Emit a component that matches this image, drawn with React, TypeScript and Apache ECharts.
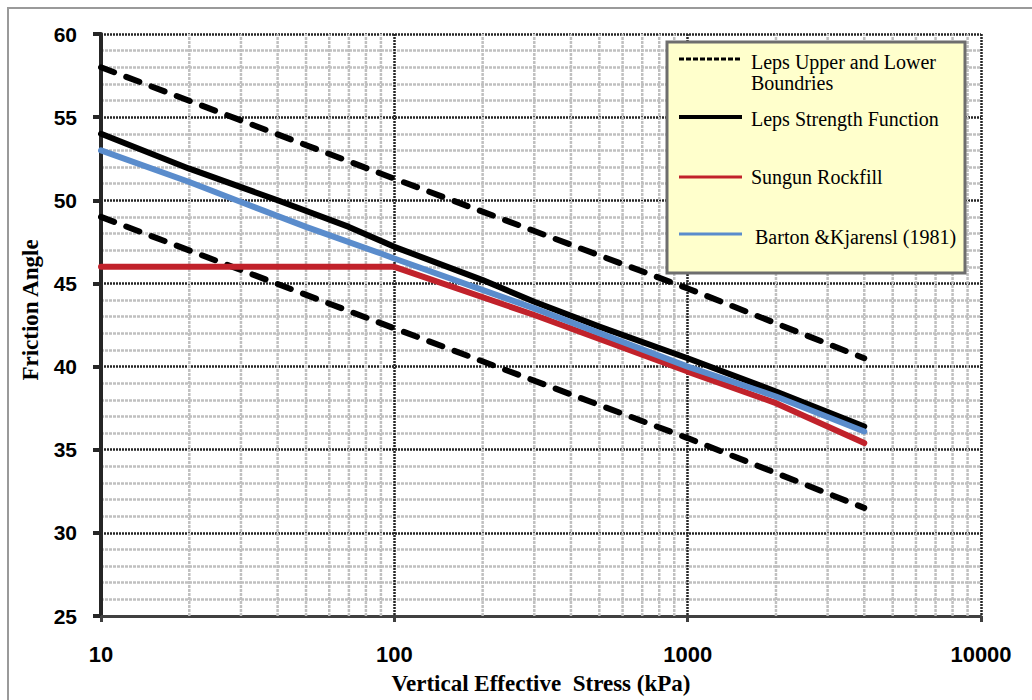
import React, { useEffect, useRef } from "react";
import * as echarts from "echarts";

const upperX = [10, 100, 1000, 4000];
const upperY = [58, 51.3, 44.7, 40.5];
const lowerX = [10, 100, 1000, 4000];
const lowerY = [49, 42.3, 35.7, 31.5];
const lepsX = [10, 20, 40, 70, 100, 200, 300, 500, 1000, 2000, 4000];
const lepsY = [54, 51.9, 50, 48.4, 47.2, 45.2, 43.9, 42.4, 40.5, 38.5, 36.4];
const sungunX = [10, 100, 300, 1000, 2000, 4000];
const sungunY = [46, 46, 43.1, 39.7, 37.8, 35.4];
const bartonX = [10, 20, 30, 50, 90, 100, 300, 1000, 2000, 4000];
const bartonY = [53, 51.1, 49.9, 48.4, 46.8, 46.5, 43.5, 40.0, 38.2, 36.1];
const minorXGrid = [20, 30, 40, 50, 60, 70, 80, 90, 200, 300, 400, 500, 600, 700, 800, 900, 2000, 3000, 4000, 5000, 6000, 7000, 8000, 9000];
const yMin = 25;
const yMax = 60;
const yStep = 5;

const legendNames = [
  "Leps Upper and Lower\nBoundries",
  "Leps Strength Function",
  "Sungun Rockfill",
  "Barton &Kjarensl (1981)",
];

const pairs = (xs: number[], ys: number[]) => xs.map((x, i) => [x, ys[i]]);

export default function App() {
  const ref = useRef<HTMLDivElement>(null);
  useEffect(() => {
    document.body.style.margin = "0";
    const chart = echarts.init(ref.current!, null, { renderer: "svg" });
    const serif = "'Liberation Serif', 'Times New Roman', serif";
    const sans = "'Liberation Sans', Arial, sans-serif";
    const lx1 = 679, lx2 = 742, tx = 751;
    const Z = 100;
    const legendFont = `20px ${serif}`;
    const minorGrid = { color: "#c0c0c0", width: 2.5, type: [3, 1] as number[] };
    const majorGrid = { color: "#262626", width: 2.5, type: [2, 1] as number[] };
    const vGridData: any[] = [];
    minorXGrid.forEach((v) => {
      vGridData.push([v, yMin], [v, yMax], [v, "-"]);
    });
    chart.setOption({
      animation: false,
      backgroundColor: "#ffffff",
      grid: { left: 101, top: 34, width: 880, height: 585, containLabel: false },
      xAxis: {
        type: "log",
        logBase: 10,
        min: 10,
        max: 10000,
        name: "Vertical Effective  Stress (kPa)",
        nameLocation: "middle",
        nameGap: 56,
        nameTextStyle: { fontFamily: serif, fontWeight: "bold", fontSize: 23, color: "#000" },
        axisLine: { show: true, lineStyle: { color: "#404040", width: 3 } },
        axisTick: { show: true, length: 6, lineStyle: { color: "#404040", width: 3 } },
        axisLabel: {
          margin: 27,
          fontFamily: sans,
          fontWeight: "bold",
          fontSize: 22,
          color: "#000",
          formatter: (v: number) => String(Math.round(v)),
        },
        splitLine: { show: true, lineStyle: majorGrid },
        minorTick: { show: false },
      },
      yAxis: {
        type: "value",
        min: yMin,
        max: yMax,
        interval: yStep,
        name: "Friction Angle",
        nameLocation: "middle",
        nameGap: 59,
        nameRotate: 90,
        nameTextStyle: { fontFamily: serif, fontWeight: "bold", fontSize: 23, color: "#000", padding: [0, 0, 0, 30] },
        axisLine: { show: true, lineStyle: { color: "#262626", width: 4 } },
        axisTick: { show: true, length: 8, lineStyle: { color: "#262626", width: 4 } },
        axisLabel: { margin: 24, fontFamily: sans, fontWeight: "bold", fontSize: 21, color: "#000" },
        splitLine: { show: true, lineStyle: majorGrid },
        minorTick: { show: false, splitNumber: 5 },
        minorSplitLine: { show: true, lineStyle: minorGrid },
      },
      series: [
        {
          name: "minor grid",
          type: "line",
          data: vGridData,
          z: 0,
          silent: true,
          showSymbol: false,
          connectNulls: false,
          lineStyle: minorGrid,
          emphasis: { disabled: true },
        },
        {
          name: legendNames[0],
          type: "line",
          data: pairs(upperX, upperY),
          showSymbol: false,
          z: 3,
          lineStyle: { color: "#000", width: 6, type: [14, 13], cap: "round" },
        },
        {
          name: legendNames[0],
          type: "line",
          data: pairs(lowerX, lowerY),
          showSymbol: false,
          z: 3,
          lineStyle: { color: "#000", width: 6, type: [14, 13], cap: "round" },
        },
        {
          name: legendNames[2],
          type: "line",
          data: pairs(sungunX, sungunY),
          showSymbol: false,
          z: 3,
          lineStyle: { color: "#c1222b", width: 6, cap: "round" },
        },
        {
          name: legendNames[1],
          type: "line",
          data: pairs(lepsX, lepsY),
          showSymbol: false,
          z: 4,
          lineStyle: { color: "#000", width: 6, cap: "round" },
        },
        {
          name: legendNames[3],
          type: "line",
          data: pairs(bartonX, bartonY),
          showSymbol: false,
          z: 5,
          lineStyle: { color: "#5a8ccc", width: 6, cap: "round" },
        },
      ],
      graphic: [
        {
          type: "rect",
          silent: true,
          z: Z,
          shape: { x: 8, y: 8, width: 1100, height: 800 },
          style: { fill: "none", stroke: "#9a9a9a", lineWidth: 2 },
        },
        {
          type: "rect",
          z: Z,
          shape: { x: 667, y: 42, width: 298, height: 231 },
          style: { fill: "#ffffcc", stroke: "#6e6e6e", lineWidth: 3 },
        },
        { type: "line", z: Z + 1, shape: { x1: lx1, y1: 59, x2: lx2, y2: 59 }, style: { stroke: "#000", lineWidth: 3, lineDash: [5, 2] } },
        { type: "line", z: Z + 1, shape: { x1: lx1, y1: 117, x2: lx2, y2: 117 }, style: { stroke: "#000", lineWidth: 4 } },
        { type: "line", z: Z + 1, shape: { x1: lx1, y1: 177, x2: lx2, y2: 177 }, style: { stroke: "#c1222b", lineWidth: 3 } },
        { type: "line", z: Z + 1, shape: { x1: lx1, y1: 234, x2: lx2, y2: 234 }, style: { stroke: "#5a8ccc", lineWidth: 3 } },
        { type: "text", z: Z + 1, x: tx, y: 62, style: { text: "Leps Upper and Lower", font: legendFont, fill: "#000", verticalAlign: "middle" } },
        { type: "text", z: Z + 1, x: tx, y: 83, style: { text: "Boundries", font: legendFont, fill: "#000", verticalAlign: "middle" } },
        { type: "text", z: Z + 1, x: tx, y: 119, style: { text: legendNames[1], font: legendFont, fill: "#000", verticalAlign: "middle" } },
        { type: "text", z: Z + 1, x: tx, y: 177, style: { text: legendNames[2], font: legendFont, fill: "#000", verticalAlign: "middle" } },
        { type: "text", z: Z + 1, x: tx + 4, y: 237, style: { text: legendNames[3], font: legendFont, fill: "#000", verticalAlign: "middle" } },
      ],
    });
    return () => chart.dispose();
  }, []);
  return <div ref={ref} style={{ width: 1032, height: 700 }} />;
}
